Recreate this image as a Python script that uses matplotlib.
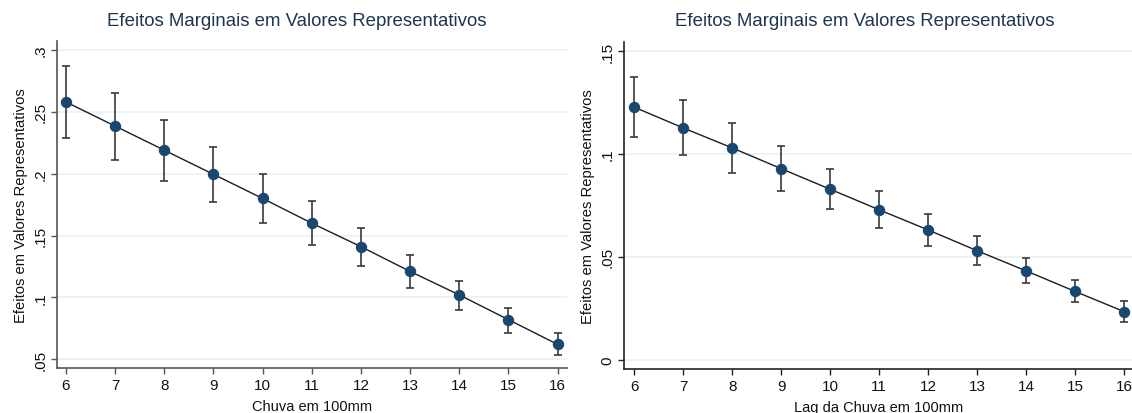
import matplotlib
matplotlib.use("Agg")
import matplotlib.pyplot as plt

plt.rcParams["font.family"] = ["Liberation Sans", "DejaVu Sans"]

# data
rain = [6, 7, 8, 9, 10, 11, 12, 13, 14, 15, 16]

chuva_margin = [0.258, 0.2385, 0.219, 0.1995, 0.180, 0.160, 0.141, 0.121, 0.102, 0.082, 0.062]
chuva_upper = [0.2873, 0.2652, 0.2436, 0.2218, 0.1999, 0.1781, 0.1562, 0.1344, 0.1131, 0.0918, 0.0713]
chuva_lower = [0.2286, 0.2112, 0.1940, 0.1770, 0.1598, 0.1422, 0.1250, 0.1074, 0.0896, 0.0716, 0.0532]

lag_margin = [0.1228, 0.1127, 0.1030, 0.0929, 0.0829, 0.0729, 0.0631, 0.0530, 0.0432, 0.0332, 0.0234]
lag_upper = [0.1374, 0.1263, 0.1151, 0.1040, 0.0929, 0.0820, 0.0709, 0.0602, 0.0495, 0.0388, 0.0284]
lag_lower = [0.1085, 0.0996, 0.0908, 0.0820, 0.0731, 0.0642, 0.0553, 0.0462, 0.0372, 0.0281, 0.0185]

chuva_yticks = [0.05, 0.1, 0.15, 0.2, 0.25, 0.3]
chuva_ylabels = [".05", ".1", ".15", ".2", ".25", ".3"]
lag_yticks = [0, 0.05, 0.1, 0.15]
lag_ylabels = ["0", ".05", ".1", ".15"]

TITLE = "Efeitos Marginais em Valores Representativos"
YLABEL = "Efeitos em Valores Representativos"

MARKER_COLOR = "#1a476f"
TITLE_COLOR = "#1f3550"
GRID_COLOR = "#eaf2f3"
BAR_COLOR = "#3a3a3a"
W, H = 1132, 414


def _panel(fig, rect, margin, upper, lower, yticks, ylabels, ylim, xlim, xlabel, spine_color):
    ax = fig.add_axes(rect)
    yerr = [[m - lo for m, lo in zip(margin, lower)], [up - m for m, up in zip(margin, upper)]]
    ax.errorbar(rain, margin, yerr=yerr, fmt="none", ecolor=BAR_COLOR, elinewidth=1.2,
                capsize=3.0, capthick=1.2, zorder=2)
    ax.plot(rain, margin, color="#1c1c1c", linewidth=1.0, zorder=3)
    ax.plot(rain, margin, linestyle="none", marker="o", markersize=7.2,
            color=MARKER_COLOR, zorder=4)

    ax.set_xlim(*xlim)
    ax.set_ylim(*ylim)
    ax.set_xticks(rain)
    ax.set_xticklabels([str(r) for r in rain])
    ax.set_yticks(yticks)
    ax.set_yticklabels(ylabels, rotation=90, va="center")
    ax.grid(True, axis="y", color=GRID_COLOR, linewidth=1.3)
    ax.set_axisbelow(True)
    for side in ("top", "right"):
        ax.spines[side].set_visible(False)
    for side in ("left", "bottom"):
        ax.spines[side].set_color(spine_color)
        ax.spines[side].set_linewidth(1.2)
    ax.tick_params(axis="both", direction="out", length=4, width=1.0, color=spine_color,
                   labelsize=11, labelcolor="#111111")
    ax.tick_params(axis="x", pad=3)
    ax.tick_params(axis="y", pad=3)
    ax.set_xlabel(xlabel, fontsize=10.5, color="#111111", labelpad=5)
    ax.set_ylabel(YLABEL, fontsize=10.6, color="#111111", labelpad=4)
    return ax


fig = plt.figure(figsize=(W / 100, H / 100), dpi=100, facecolor="white")

ax1 = _panel(fig, [57 / W, 1 - 369.3 / H, 510 / W, 327.3 / H],
             chuva_margin, chuva_upper, chuva_lower, chuva_yticks, chuva_ylabels,
             (0.0427, 0.3073), (5.817, 16.19), "Chuva em 100mm", "#555555")
ax2 = _panel(fig, [624.3 / W, 1 - 370 / H, (W - 624.3) / W, 327 / H],
             lag_margin, lag_upper, lag_lower, lag_yticks, lag_ylabels,
             (-0.0045, 0.1545), (5.796, 16.16), "Lag da Chuva em 100mm", "#222222")

fig.text(297 / W, 1 - 22 / H, TITLE, ha="center", va="center", fontsize=13.4, color=TITLE_COLOR)
fig.text(865 / W, 1 - 22 / H, TITLE, ha="center", va="center", fontsize=13.4, color=TITLE_COLOR)

fig.savefig("out.png", dpi=100, facecolor="white")
